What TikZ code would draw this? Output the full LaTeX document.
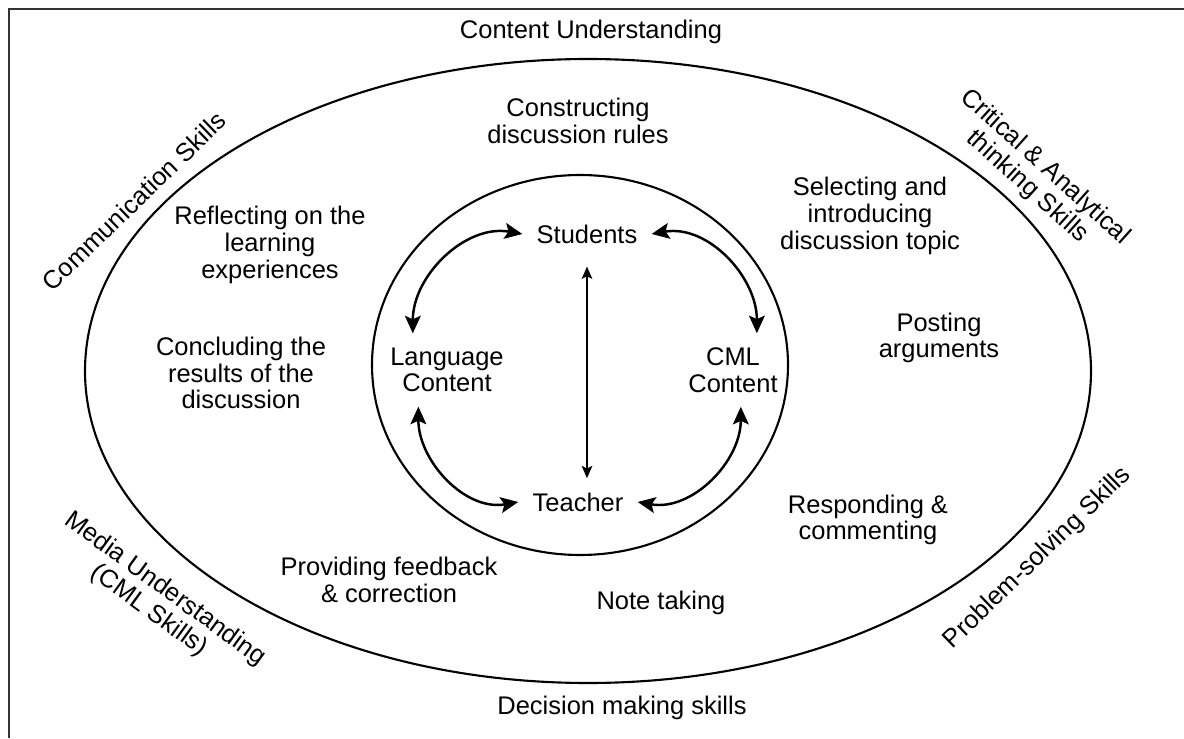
\documentclass[tikz,border=0pt]{standalone}
\usepackage{fontspec}
\setmainfont{Liberation Sans}
\usepackage{tikz}
\usetikzlibrary{arrows.meta,positioning}
\tikzstyle{activity}=[text centered, align=center, inner sep=1pt,
font=\fontsize{14.5}{15.2}\selectfont]
\tikzstyle{skill}=[activity]
\tikzstyle{actor}=[activity, inner sep=8pt]
\tikzstyle{ring}=[draw, line width=1.2pt]
\tikzstyle{link}=[draw, line width=1.4pt, <->,
>={Stealth[length=10pt,width=9pt,inset=2pt]}]
\tikzstyle{axis}=[draw, line width=1.1pt, <->,
>={Stealth[length=7pt,width=6pt,inset=1.5pt]}, shorten <=5pt]
\newcommand{\actv}[2]{node (p#1)[activity]{#2}}
\newcommand{\skl}[3]{node (s#1)[skill,rotate=#2]{#3}}
\newcommand{\actor}[2]{node (#1)[actor]{#2}}

\begin{document}
\begin{tikzpicture}[x=0.02cm,y=0.02cm]
	\useasboundingbox (0,0) rectangle (1184,738);
	% frame and the two rings
	\draw[line width=1.6pt, black!80] (9,0) |- (1184,729);
	\path[ring] (588,367) ellipse [x radius=503, y radius=312];
	\path[ring] (580,373) ellipse [x radius=208, y radius=190];
	
	% skills round the outer ring
	\path (591,706) \skl{1}{0}{Content Understanding};
	\path (1036,561) \skl{2}{-42}{Critical \& Analytical\\thinking Skills};
	\path (1038,180) \skl{3}{44}{Problem-solving Skills};
	\path (622,30) \skl{4}{0}{Decision making skills};
	\path (157,138) \skl{5}{-36}{Media Understanding\\(CML Skills)};
	\path (134,537) \skl{6}{44}{Communication Skills};
	
	% discussion activities
	\path (578,617) \actv{1}{Constructing\\discussion rules};
	\path (870,522) \actv{2}{Selecting and\\introducing\\discussion topic};
	\path (939,400) \actv{3}{Posting\\arguments};
	\path (868,218) \actv{4}{Responding \&\\commenting};
	\path (661,135) \actv{5}{Note taking};
	\path (389,158) \actv{6}{Providing feedback\\\& correction};
	\path (241,365) \actv{7}{Concluding the\\results of the\\discussion};
	\path (270,493) \actv{8}{Reflecting on the\\learning\\experiences};
	
	% inner circle
	\path (587,504) \actor{stu}{Students};
	\path (447,368) \actor{lang}{Language\\Content};
	\path (733,368) \actor{cml}{CML\\Content};
	\path (578,236) \actor{teach}{Teacher};
	
	% arrows
	\path [link] (stu.west) to[out=170,in=90] (lang.133);
	\path [link] (stu.east) to[out=10,in=90] (cml.57);
	\path [link] (lang.232) to[out=270,in=190] (teach.west);
	\path [link] (cml.282) to[out=270,in=350] (teach.east);
	\path [axis] (stu.south) -- (stu.south |- teach.north);
	
\end{tikzpicture}
\end{document}
